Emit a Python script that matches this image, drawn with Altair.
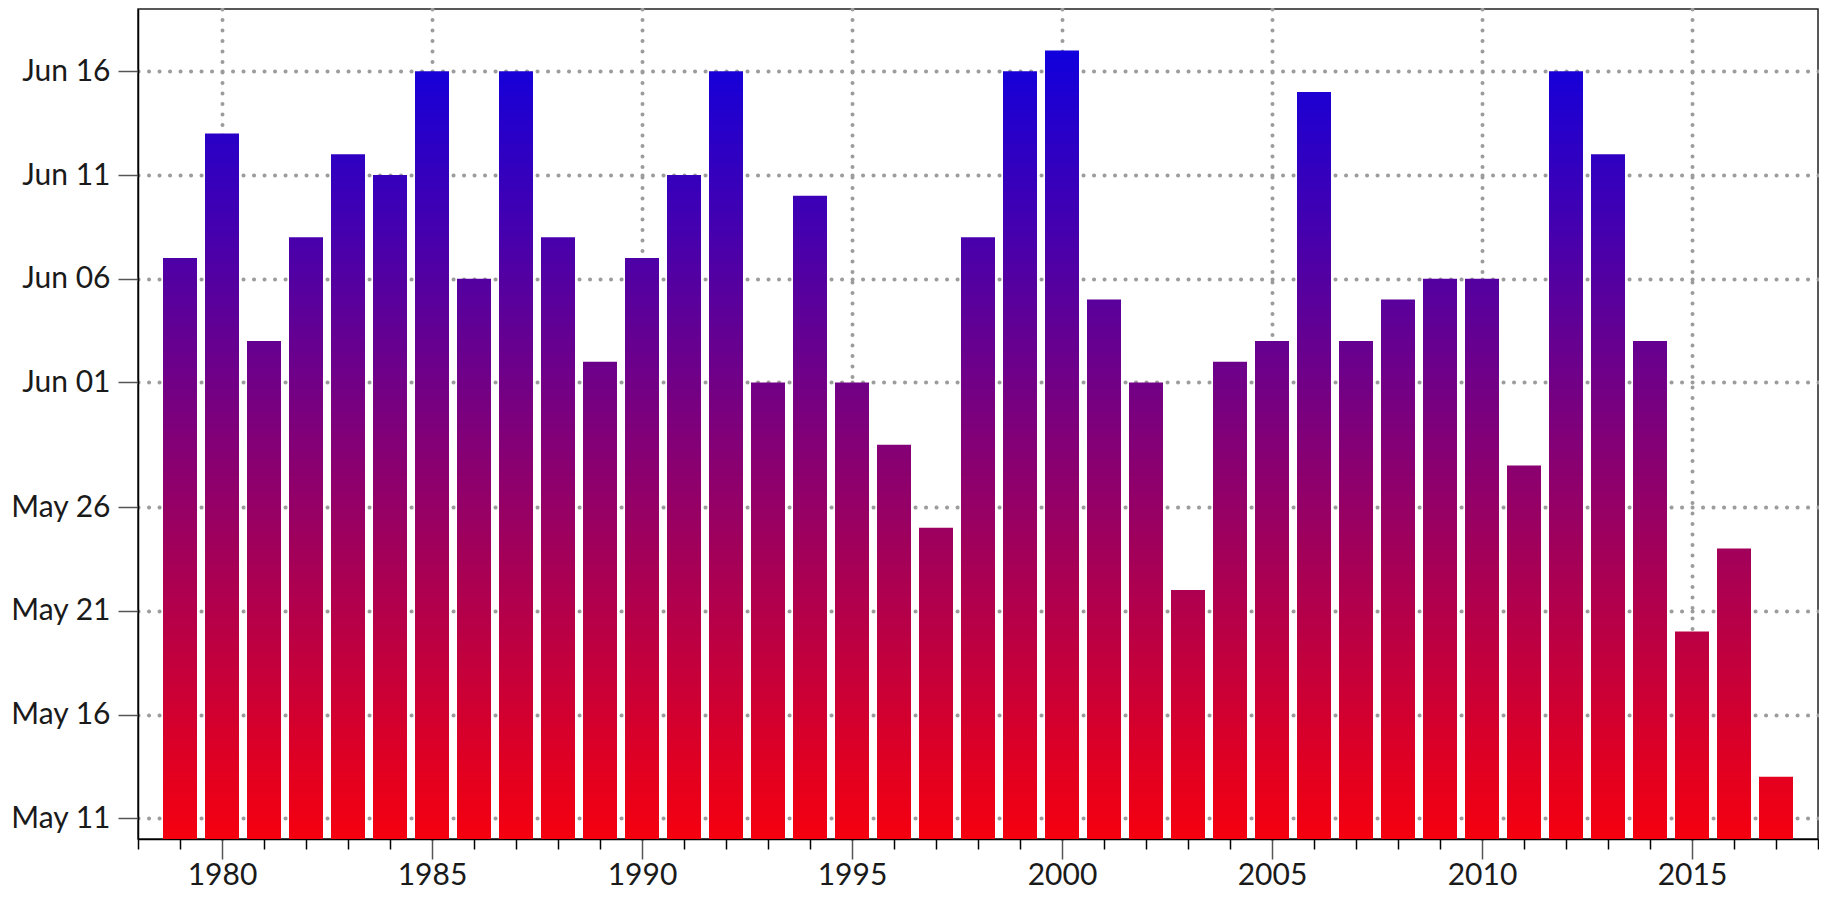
import altair as alt
import pandas as pd

# ---- data ----
years = list(range(1979, 2018))
dates = ["Jun 07", "Jun 13", "Jun 03", "Jun 08", "Jun 12", "Jun 11", "Jun 16", "Jun 06",
         "Jun 16", "Jun 08", "Jun 02", "Jun 07", "Jun 11", "Jun 16", "Jun 01", "Jun 10",
         "Jun 01", "May 29", "May 25", "Jun 08", "Jun 16", "Jun 17", "Jun 05", "Jun 01",
         "May 22", "Jun 02", "Jun 03", "Jun 15", "Jun 03", "Jun 05", "Jun 06", "Jun 06",
         "May 28", "Jun 16", "Jun 12", "Jun 03", "May 20", "May 24", "May 13"]
y_tick_labels = ["May 11", "May 16", "May 21", "May 26", "Jun 01", "Jun 06", "Jun 11", "Jun 16"]
x_tick_values = list(range(1978, 2019))
y_domain_labels = ["May 10", "Jun 19"]
REF_YEAR = 2001

PLOT_W = 1680          # 42 px per year over 1978-2018
BAR_HALF = 17 / 42     # half bar width in years (keeps bar edges on whole pixels)


def to_dt(s):
    t = pd.to_datetime(f"{REF_YEAR} {s}", format="%Y %b %d")
    return alt.DateTime(year=int(t.year), month=int(t.month), date=int(t.day))


df = pd.DataFrame({
    "year": years,
    "date": [pd.to_datetime(f"{REF_YEAR} {d}", format="%Y %b %d").strftime("%Y-%m-%dT%H:%M:%S") for d in dates],
})

color_scale = alt.Scale(domain=[0, 40], range=["#f5000f", "#0500e8"], interpolate="rgb")

major = "datum.value % 5 === 0"

# Each bar is drawn as nested rectangles (all starting at the baseline), so the
# colour follows the absolute height like the reference's vertical gradient.
chart = alt.Chart(df).mark_rect().transform_calculate(
    top="time(toDate(datum.date))",
    base=f"time(datetime({REF_YEAR}, 4, 10))",
    step="4 * 3600 * 1000",
).transform_calculate(
    n="ceil((datum.top - datum.base) / datum.step)"
).transform_calculate(
    seg="sequence(0, datum.n)"
).transform_flatten(["seg"]).transform_calculate(
    y0="datum.base",
    y1="min(datum.base + (datum.seg + 1) * datum.step, datum.top)",
    x0=f"datum.year - {BAR_HALF}",
    x1=f"datum.year + {BAR_HALF}",
).transform_calculate(
    c="((datum.base + datum.seg * datum.step + datum.y1) / 2 - datum.base) / 86400000"
).encode(
    x=alt.X("x0:Q",
            scale=alt.Scale(domain=[1978, 2018], nice=False, zero=False),
            axis=alt.Axis(
                title=None, values=x_tick_values, format="d",
                labelExpr=f"{major} ? datum.label : ''",
                labelFlush=False, labelOverlap=False,
                tickSize={"condition": {"test": major, "value": 20}, "value": 10},
                tickColor={"condition": {"test": major, "value": "#555555"}, "value": "#000000"},
                gridOpacity={"condition": {"test": major, "value": 1}, "value": 0},
                labelPadding=1,
            )),
    x2="x1:Q",
    y=alt.Y("y0:T",
            scale=alt.Scale(domain=[to_dt(s) for s in y_domain_labels], nice=False),
            axis=alt.Axis(
                title=None, values=[to_dt(s) for s in y_tick_labels], format="%b %d",
                tickSize=20, tickColor="#555555", labelPadding=8,
            )),
    y2="y1:T",
    color=alt.Color("c:Q", scale=color_scale, legend=None),
    order=alt.Order("seg:Q", sort="descending"),
).properties(
    width=PLOT_W, height=830,
    autosize=alt.AutoSizeParams(type="none"),
    padding={"left": 130, "top": 1, "right": 1, "bottom": 51},
).configure_view(
    stroke="#222222", strokeWidth=1.5
).configure_axis(
    domainColor="#000000", domainWidth=1.5,
    tickWidth=1.5,
    labelFont="Lato", labelFontSize=30, labelColor="#1a1a1a",
    grid=True, gridColor="#9c9c9c", gridDash=[0.1, 10.4], gridCap="round", gridWidth=4,
)

chart.save("out.html", embed_options={"renderer": "svg", "actions": False})
